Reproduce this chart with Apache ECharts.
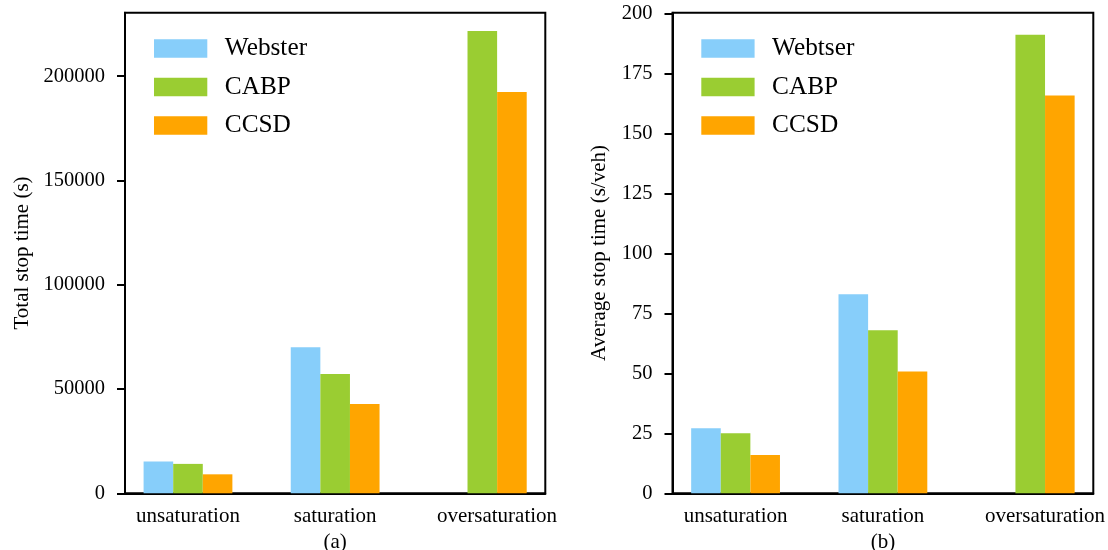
<!DOCTYPE html>
<html>
<head>
<meta charset="utf-8">
<script src="https://cdn.jsdelivr.net/npm/echarts@6/dist/echarts.min.js"></script>
<style>
  html, body { margin: 0; padding: 0; background: #fff; }
  #chart { width: 1108px; height: 550px; }
</style>
</head>
<body>
<div id="chart"></div>
<script>
// ---- data ----
var categories = ['unsaturation', 'saturation', 'oversaturation'];
var leftNames = ['Webster', 'CABP', 'CCSD'];
var rightNames = ['Webtser', 'CABP', 'CCSD'];
var totalWebster = [15300, 70000, null];
var totalCABP = [14100, 57200, 221600];
var totalCCSD = [9100, 42800, 192400];
var avgWebster = [27.1, 82.9, null];
var avgCABP = [25.0, 67.9, 191.1];
var avgCCSD = [16.0, 50.8, 165.8];
var totalTicks = [0, 50000, 100000, 150000, 200000];
var avgTicks = [0, 25, 50, 75, 100, 125, 150, 175, 200];
var colors = ['#87CEFA', '#9ACD32', '#FFA500'];

// ---- chart ----
var FONT = 'Liberation Serif';
var chart = echarts.init(document.getElementById('chart'), null, { renderer: 'canvas' });

function toPoints(arr) {
  return categories.map(function (c, i) { return [i, arr[i]]; });
}
function catLabel(v) {
  return v < 0.5 ? categories[0] : (v < 1.5 ? categories[1] : categories[2]);
}
function xAxisDef(gridIndex, name) {
  return {
    type: 'value', gridIndex: gridIndex, min: -0.428, max: 2.428,
    name: name, nameLocation: 'middle', nameGap: 33,
    nameTextStyle: { fontFamily: FONT, fontSize: 21, color: '#000' },
    axisLine: { show: true, onZero: false, lineStyle: { color: '#000', width: 2 } },
    axisTick: { show: false },
    splitLine: { show: false },
    axisLabel: {
      customValues: [0, 1, 2.1], formatter: catLabel, margin: 12.5,
      fontFamily: FONT, fontSize: 21, color: '#000'
    }
  };
}
function yAxisDef(gridIndex, max, ticks, name, nameGap) {
  return {
    type: 'value', gridIndex: gridIndex, min: 0, max: max, position: 'left',
    name: name, nameLocation: 'middle', nameGap: nameGap,
    nameTextStyle: { fontFamily: FONT, fontSize: 21, color: '#000' },
    axisLine: { show: true, onZero: false, lineStyle: { color: '#000', width: 2 } },
    axisTick: { show: true, inside: false, length: 8, customValues: ticks,
                lineStyle: { color: '#000', width: 2 } },
    splitLine: { show: false },
    axisLabel: { customValues: ticks, margin: 20, fontFamily: FONT, fontSize: 20.5, color: '#000',
                 formatter: function (v) { return String(v); } }
  };
}
function barSeries(name, arr, idx, color) {
  return {
    type: 'bar', name: name, xAxisIndex: idx, yAxisIndex: idx,
    data: toPoints(arr), barWidth: 29.6, barGap: '0%',
    itemStyle: { color: color }
  };
}
function legendDef(left, names) {
  return {
    orient: 'vertical', left: left, top: 31,
    itemWidth: 53.3, itemHeight: 18.7, itemGap: 13.5,
    icon: 'rect', selectedMode: false,
    data: names,
    textStyle: { fontFamily: FONT, fontSize: 25.3, color: '#000', padding: [0, 0, 0, 12.5] }
  };
}

var option = {
  animation: false,
  backgroundColor: '#fff',
  textStyle: { fontFamily: FONT },
  grid: [
    { left: 125, top: 12.7, width: 420.3, height: 480.6, show: true, outerBoundsMode: 'none',
      containLabel: false, borderColor: '#000', borderWidth: 2, backgroundColor: 'transparent' },
    { left: 672.5, top: 12.7, width: 420.8, height: 480.6, show: true, outerBoundsMode: 'none',
      containLabel: false, borderColor: '#000', borderWidth: 2, backgroundColor: 'transparent' }
  ],
  legend: [legendDef(149, leftNames), legendDef(696.3, rightNames)],
  xAxis: [xAxisDef(0, '(a)'), xAxisDef(1, '(b)')],
  yAxis: [
    yAxisDef(0, 230400, totalTicks, 'Total stop time (s)', 92),
    yAxisDef(1, 200.25, avgTicks, 'Average stop time (s/veh)', 63)
  ],
  series: [
    barSeries(leftNames[0], totalWebster, 0, colors[0]),
    barSeries(leftNames[1], totalCABP, 0, colors[1]),
    barSeries(leftNames[2], totalCCSD, 0, colors[2]),
    barSeries(rightNames[0], avgWebster, 1, colors[0]),
    barSeries(rightNames[1], avgCABP, 1, colors[1]),
    barSeries(rightNames[2], avgCCSD, 1, colors[2])
  ]
};
chart.setOption(option);
</script>
</body>
</html>
